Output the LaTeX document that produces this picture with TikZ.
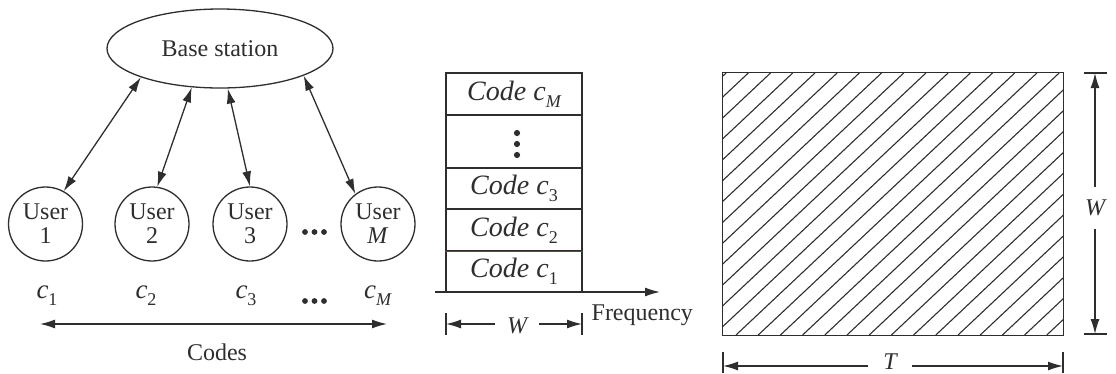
\documentclass[tikz,border=0pt]{standalone}
\usepackage{fontspec}
\setmainfont{Liberation Serif}
\usetikzlibrary{arrows.meta,shapes.geometric}
\newcommand\fsz[1]{\fontsize{#1}{#1}\selectfont}
\newcommand\lowsub[1]{\raisebox{-0.25em}{\fsz{18}#1}}
\definecolor{inkc}{HTML}{2E2E2E}
\definecolor{seam}{HTML}{7A3A44}
\begin{document}
\begin{tikzpicture}[x=1pt,y=-1pt,line width=1.3pt,draw=inkc,text=inkc,
  tipshape/.tip={Latex[length=15pt,width=9pt]},
  arr/.style={-tipshape},
  both/.style={tipshape-tipshape},
  user/.style={circle,draw,minimum size=74pt,inner sep=0pt,align=center,font=\fsz{24}},
  codelbl/.style={font=\fsz{27},inner sep=0pt},
  rowbox/.style={draw,minimum width=136pt,inner sep=0pt,font=\fsz{28}\itshape},
  dimlbl/.style={font=\fsz{24}\itshape},
  dot/.style={fill=inkc,draw=none}]
\useasboundingbox (0,0) rectangle (1116,373);

% ---- users and base station
\node[ellipse,draw,minimum width=226pt,minimum height=79pt,inner sep=0pt,font=\fsz{24}] (bs) at (220,48.5) {Base station};
\node[user] (u1) at (45.5,224) {User\\1};
\node[user] (u2) at (152,224) {User\\2};
\node[user] (u3) at (250,224) {User\\3};
\node[user] (uM) at (378,224) {User\\\textit{M}};
\foreach \x in {305,314.5,324} \fill[dot] (\x,232) circle (2.9pt);

\draw[both] (bs.200) -- (u1.61);
\draw[both] (bs.234) -- (u2.82);
\draw[both] (bs.281) -- (u3.90);
\draw[both] (bs.342) -- (uM.127);

% ---- code labels
\node[codelbl] (k1) at (47,296) {\textit{c}\lowsub{1}};
\node[codelbl] (k2) at (146,296) {\textit{c}\lowsub{2}};
\node[codelbl] (k3) at (246,296) {\textit{c}\lowsub{3}};
\node[codelbl] (kM) at (378,296) {\textit{c}\lowsub{\textit{M}}};
\foreach \x in {305,314.5,324} \fill[dot] (\x,301) circle (2.9pt);
\coordinate (ca) at (40,324);
\coordinate (cb) at (387,324);
\draw[both] (ca) -- (cb);
\node[font=\fsz{24}] (codes) at (217,352) {Codes};

% ---- code stack over frequency
\node[rowbox,minimum height=42pt] (rM) at (514,94) {Code c\lowsub{\textit{M}}};
\node[rowbox,minimum height=53pt] (rd) at (514,141.5) {};
\foreach \y in {133,144,155} \fill[dot] (517,\y) circle (3.1pt);
\node[rowbox,minimum height=41pt] (r3) at (514,188.5) {Code c\lowsub{\upshape 3}};
\node[rowbox,minimum height=42pt] (r2) at (514,230) {Code c\lowsub{\upshape 2}};
\node[rowbox,minimum height=41pt] (r1) at (514,271.5) {Code c\lowsub{\upshape 1}};
\draw[seam,line width=1.1pt] (r2.south west) -- (r2.south east);

\coordinate (fa) at (435,292);
\coordinate (fb) at (660,292);
\draw[arr] (fa) -- (fb);
\node[anchor=base west,font=\fsz{24},inner sep=0pt] (freq) at (591,320) {Frequency};

\coordinate (wlt) at (446,313); \coordinate (wlb) at (446,335);
\coordinate (wrt) at (582,313); \coordinate (wrb) at (582,335);
\draw (wlt) -- (wlb); \draw (wrt) -- (wrb);
\coordinate (wl) at (446,324); \coordinate (wr) at (582,324);
\node[dimlbl,inner xsep=11pt] (wm) at (517,326) {W};
\draw[arr] (wm.west |- wl) -- (wl);
\draw[arr] (wm.east |- wr) -- (wr);

% ---- time-frequency plane
\node[minimum width=340pt,minimum height=262pt,inner sep=0pt] (tf) at (893,204) {};
\begin{scope}
  \clip (tf.south west) rectangle (tf.north east);
  \foreach \k in {-2,...,28}
    \draw[line width=1.1pt] (748.3+22.2*\k,73) -- (748.3+22.2*\k-278.7,335);
\end{scope}
\draw (tf.south west) rectangle (tf.north east);

% vertical extent W
\coordinate (vt1) at (1084,73); \coordinate (vt2) at (1107,73);
\coordinate (vb1) at (1084,334); \coordinate (vb2) at (1107,334);
\draw (vt1) -- (vt2); \draw (vb1) -- (vb2);
\coordinate (vt) at (1095,73); \coordinate (vb) at (1095,334);
\node[dimlbl,inner ysep=12pt] (wv) at (1095,208) {W};
\draw[arr] (wv.north) -- (vt);
\draw[arr] (wv.south) -- (vb);

% horizontal extent T
\coordinate (ht1) at (723,352); \coordinate (hb1) at (723,373);
\coordinate (ht2) at (1063,352); \coordinate (hb2) at (1063,373);
\draw (ht1) -- (hb1); \draw (ht2) -- (hb2);
\coordinate (hl) at (723,366); \coordinate (hr) at (1063,366);
\node[dimlbl,inner xsep=15pt,inner ysep=0pt] (tt) at (890,362) {T};
\draw[arr] (tt.west |- hl) -- (hl);
\draw[arr] (tt.east |- hr) -- (hr);
\end{tikzpicture}
\end{document}
